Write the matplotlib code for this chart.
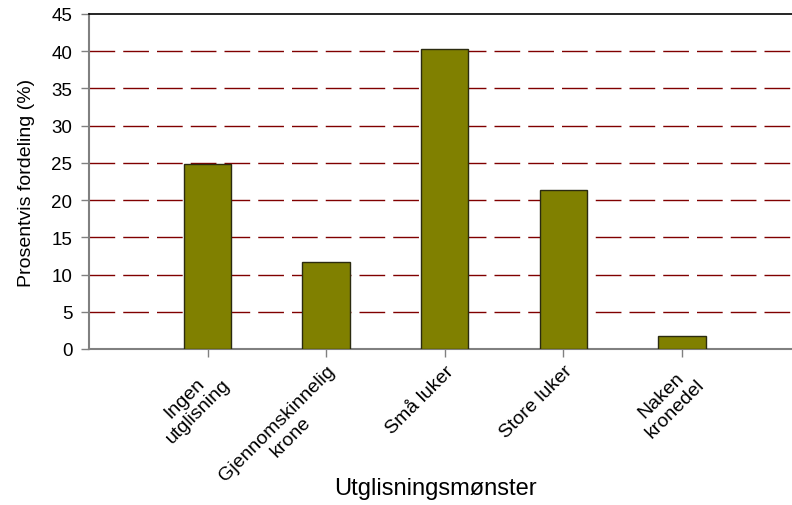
import matplotlib
matplotlib.use("Agg")
import matplotlib.pyplot as plt

categories = ["Ingen\nutglisning", "Gjennomskinnelig\nkrone", "Små luker", "Store luker", "Naken\nkronedel"]
values = [24.9, 11.7, 40.3, 21.4, 1.75]
yticks = [0, 5, 10, 15, 20, 25, 30, 35, 40, 45]

plt.rcParams['font.family'] = ['Liberation Sans', 'DejaVu Sans']

fig = plt.figure(figsize=(7.92, 5.06), dpi=100)
ax = fig.add_axes([89/792, 1-350/506, 703/792, 335/506])

pos = list(range(1, len(categories) + 1))
ax.bar(pos, values, width=0.4, color='#808000', edgecolor='#2b2b10', linewidth=1.0, zorder=3)

for t in yticks[1:-1]:
    ax.axhline(t, color='#800000', linewidth=1.0, dashes=(18.5, 5.8), zorder=1)

ax.set_xlim(0, (792-208)/118.5 + 1)
ax.set_ylim(0, 45)
ax.set_yticks(yticks)
ax.set_yticklabels([str(t) for t in yticks], fontsize=13.5)
ax.set_xticks(pos)
ax.set_xticklabels(categories, fontsize=14, rotation=45, ha='right', va='top',
                   rotation_mode='anchor', multialignment='center', linespacing=1.15)

ax.spines['right'].set_visible(False)
ax.spines['top'].set_color('black')
ax.spines['top'].set_linewidth(1.2)
ax.spines['left'].set_color('#808080')
ax.spines['bottom'].set_color('#808080')
ax.spines['left'].set_linewidth(1.5)
ax.spines['bottom'].set_linewidth(1.5)
ax.tick_params(axis='both', direction='out', length=5.5, color='#808080', width=1.0)
ax.tick_params(axis='y', pad=6.5)
ax.tick_params(axis='x', pad=4)

ax.set_ylabel("Prosentvis fordeling (%)", fontsize=14, labelpad=12)
fig.text(435/792, 1-489/506, "Utglisningsmønster", fontsize=17, ha='center', va='center')

fig.savefig("out.png", dpi=100)
